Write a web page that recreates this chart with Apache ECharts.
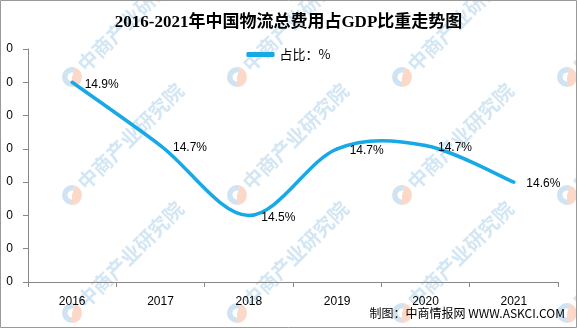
<!DOCTYPE html>
<html>
<head>
<meta charset="utf-8">
<script src="https://cdn.jsdelivr.net/npm/echarts@6/dist/echarts.min.js"></script>
<style>html,body{margin:0;padding:0;background:#fff}#c{width:577px;height:328px}</style>
</head>
<body>
<div id="c"></div>
<script>
var titleText = '2016-2021年中国物流总费用占GDP比重走势图';
var seriesName = '占比：%';
var categories = ['2016', '2017', '2018', '2019', '2020', '2021'];
var ratioValues = [14.9, 14.71, 14.5, 14.7, 14.71, 14.6];
var yTickLabels = ['0', '0', '0', '0', '0', '0', '0', '0'];
var footerText = '制图：中商情报网 WWW.ASKCI.COM';
var watermarkText = '中商产业研究院';

var LINE_COLOR = '#17a8e6';

var wmXs = [72, 237, 402, 567];
var wmYs = [77, 195, 313];
var graphics = [];
wmXs.forEach(function (x) {
  wmYs.forEach(function (y) {
    graphics.push({
      type: 'group', x: x, y: y, z: 0, silent: true,
      children: [
        { type: 'sector', shape: { cx: 0, cy: 0, r: 10, r0: 4.5, startAngle: Math.PI * 0.5, endAngle: Math.PI * 1.6 }, style: { fill: '#cfe3f3' } },
        { type: 'sector', shape: { cx: 0, cy: 0, r: 10, r0: 0, startAngle: Math.PI * 1.6, endAngle: Math.PI * 2.5 }, style: { fill: '#fbd8c8' } },
        { type: 'text', x: 9, y: -9, rotation: Math.PI / 4, style: { text: watermarkText, fontSize: 20, fontFamily: 'Noto Sans CJK SC', fontWeight: 'bold', fill: '#d3e6f4', align: 'left', verticalAlign: 'middle' } }
      ]
    });
  });
});
graphics.push({ type: 'rect', z: 100, silent: true, shape: { x: 0.5, y: 0.5, width: 576, height: 327 }, style: { fill: 'none', stroke: '#999', lineWidth: 1 } });
graphics.push({ type: 'text', z: 100, silent: true, x: 565, y: 313, style: { text: footerText, fontSize: 12, fontFamily: "'Noto Sans CJK SC'", fill: '#000', align: 'right', verticalAlign: 'middle' } });

// Catmull-Rom style smoothing (like spreadsheet smoothed lines), drawn through the axis scales
function renderSegment(params, api) {
  var i = params.dataIndex;
  var n = ratioValues.length;
  if (i >= n - 1) return null;
  function pt(k) {
    k = Math.max(0, Math.min(n - 1, k));
    return api.coord([k, ratioValues[k]]);
  }
  var p0 = pt(i - 1), p1 = pt(i), p2 = pt(i + 1), p3 = pt(i + 2);
  var c1 = [p1[0] + (p2[0] - p0[0]) / 6, p1[1] + (p2[1] - p0[1]) / 6];
  var c2 = [p2[0] - (p3[0] - p1[0]) / 6, p2[1] - (p3[1] - p1[1]) / 6];
  return {
    type: 'bezierCurve',
    shape: { x1: p1[0], y1: p1[1], x2: p2[0], y2: p2[1], cpx1: c1[0], cpy1: c1[1], cpx2: c2[0], cpy2: c2[1] },
    style: { stroke: LINE_COLOR, lineWidth: 3.5, fill: null, lineCap: 'round' },
    silent: true
  };
}

var chart = echarts.init(document.getElementById('c'), null, { renderer: 'canvas' });
chart.setOption({
  animation: false,
  backgroundColor: '#fff',
  title: {
    text: titleText, left: 'center', top: 9,
    textStyle: { fontSize: 17, fontWeight: 'bold', color: '#000', fontFamily: "'Liberation Serif', 'Noto Sans CJK SC'" }
  },
  legend: {
    top: 43, left: 'center',
    data: [{ name: seriesName, icon: 'roundRect', itemStyle: { color: LINE_COLOR } }],
    itemWidth: 28, itemHeight: 5,
    textStyle: { fontSize: 13, color: '#000', fontFamily: "'Noto Sans CJK SC'" }
  },
  grid: { left: 28, right: 19, top: 49, bottom: 46, containLabel: false },
  xAxis: {
    type: 'category', data: categories, boundaryGap: true,
    axisLine: { lineStyle: { color: '#888', width: 1 } },
    axisTick: { show: true, length: 5, alignWithLabel: false, lineStyle: { color: '#888' } },
    axisLabel: { margin: 14, fontSize: 12, color: '#000', fontFamily: "'Liberation Sans', Arial" },
    splitLine: { show: false }
  },
  yAxis: {
    type: 'value', min: 14.3, max: 15.0, interval: 0.1,
    axisLine: { show: true, lineStyle: { color: '#888', width: 1 } },
    axisTick: { show: true, length: 5, lineStyle: { color: '#888' } },
    axisLabel: {
      margin: 15, fontSize: 12, color: '#000', fontFamily: "'Liberation Sans', Arial",
      formatter: function (v) {
        var i = Math.round((v - 14.3) / 0.1);
        return yTickLabels[i] || '';
      }
    },
    splitLine: { show: false }
  },
  series: [{
    name: seriesName, type: 'custom', renderItem: renderSegment, z: 5,
    data: ratioValues.map(function (v, i) { return [i, v]; }),
    encode: { x: 0, y: 1 },
    itemStyle: { color: LINE_COLOR }
  }, {
    name: seriesName, type: 'line', data: ratioValues, z: 6,
    showSymbol: true, symbol: 'circle', symbolSize: 1,
    lineStyle: { opacity: 0, width: 0 },
    itemStyle: { color: 'rgba(0,0,0,0)', opacity: 1 },
    label: {
      show: true, position: 'right', distance: 12, offset: [0, 2],
      fontSize: 12, color: '#000', opacity: 1, fontFamily: "'Liberation Sans', Arial",
      formatter: function (p) { return p.value.toFixed(1) + '%'; }
    }
  }],
  graphic: graphics
});
</script>
</body>
</html>
